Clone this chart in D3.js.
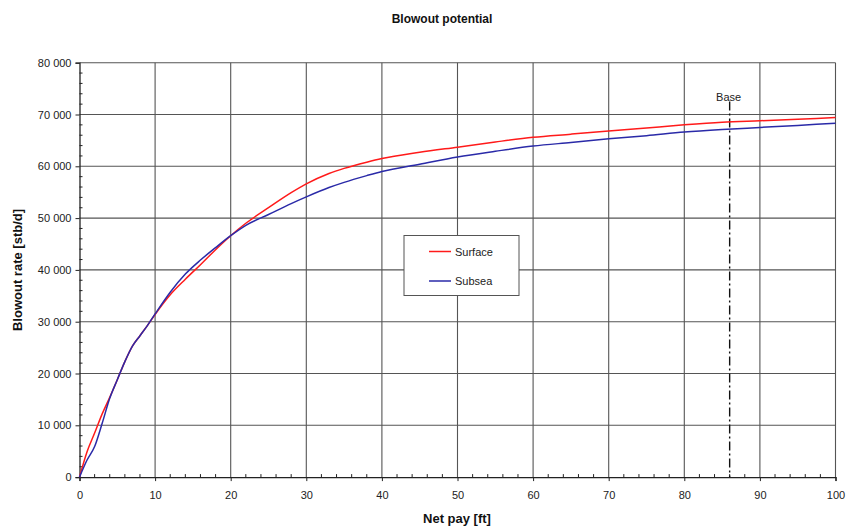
<!DOCTYPE html>
<html><head><meta charset="utf-8">
<script src="https://cdn.jsdelivr.net/npm/d3@7"></script>
<style>
html,body{margin:0;padding:0;background:#fff;}
svg text{font-family:"Liberation Sans",Arial,Helvetica,sans-serif;}
</style></head>
<body><svg id="c" width="847" height="531"></svg>
<script>
const netPay = [0,1,2,3,4,5,6,7,8,9,10,12,14,16,18,20,22,25,28,30,33,35,38,40,45,50,55,60,65,70,75,80,85,90,95,100];
const surface = [0,4900,8500,12200,15400,18800,22300,25300,27300,29300,31400,35200,38200,41000,43900,46600,49000,52000,54900,56600,58600,59600,60800,61500,62700,63700,64700,65600,66200,66800,67400,68000,68500,68800,69100,69400];
const subsea = [0,3300,5900,10400,15200,18800,22300,25300,27300,29300,31500,35700,39200,41900,44300,46600,48600,50700,52800,54100,55900,56900,58200,59000,60400,61800,62900,63900,64600,65300,65900,66600,67100,67500,67900,68300];
const xTicks = [0,10,20,30,40,50,60,70,80,90,100];
const yTicks = [0,10000,20000,30000,40000,50000,60000,70000,80000];
const seriesNames = ["Surface","Subsea"];
const seriesColors = ["#ff1a1a","#2a2aa8"];
const baseX = 86;
const title = "Blowout potential";
const xLabel = "Net pay [ft]";
const yLabel = "Blowout rate [stb/d]";

const svg = d3.select("#c");
const L=79.5, R=835.5, T=62.7, B=477.1;
const x = d3.scaleLinear().domain([0,100]).range([L,R]);
const y = d3.scaleLinear().domain([0,80000]).range([B,T]);
const fmt = v => d3.format(",")(v).replace(/,/g," ");

// grid
svg.append("g").selectAll("line").data(xTicks.slice(1)).join("line")
  .attr("x1",d=>x(d)).attr("x2",d=>x(d)).attr("y1",T).attr("y2",B)
  .attr("stroke","#555").attr("stroke-width",1.1);
svg.append("g").selectAll("line").data(yTicks.slice(1)).join("line")
  .attr("x1",L).attr("x2",R).attr("y1",d=>y(d)).attr("y2",d=>y(d))
  .attr("stroke","#555").attr("stroke-width",1.1);

// axes
const yAxis = d3.axisLeft(y).tickValues(yTicks).tickFormat(fmt).tickSize(4).tickPadding(4);
const gy = svg.append("g").attr("transform",`translate(${L},0)`).call(yAxis);
const xAxis = d3.axisBottom(x).tickValues(xTicks).tickSize(4).tickPadding(10);
const gx = svg.append("g").attr("transform",`translate(0,${B})`).call(xAxis);
[gy,gx].forEach(g=>{
  g.select(".domain").attr("stroke","#222").attr("stroke-width",1.3);
  g.selectAll(".tick line").attr("stroke","#222");
  g.selectAll(".tick text").attr("font-size",11).attr("fill","#222");
});
// minor ticks (inside)
const yMinor = d3.range(0,80001,2000).filter(v=>v%10000!==0);
svg.append("g").selectAll("line").data(yMinor).join("line")
  .attr("x1",L).attr("x2",L+3).attr("y1",d=>y(d)).attr("y2",d=>y(d)).attr("stroke","#222");
const xMinor = d3.range(0,101,2).filter(v=>v%10!==0);
svg.append("g").selectAll("line").data(xMinor).join("line")
  .attr("x1",d=>x(d)).attr("x2",d=>x(d)).attr("y1",B).attr("y2",B-3).attr("stroke","#222");

// base line
svg.append("line").attr("x1",x(baseX)).attr("x2",x(baseX)).attr("y1",y(72500)).attr("y2",B)
  .attr("stroke","#111").attr("stroke-width",1.4).attr("stroke-dasharray","9,3,2,3");
svg.append("text").attr("x",x(baseX)-1).attr("y",101).attr("text-anchor","middle")
  .attr("font-size",11).attr("fill","#222").text("Base");

// series
const line = d3.line().x((d,i)=>x(netPay[i])).y(d=>y(d)).curve(d3.curveMonotoneX);
[surface,subsea].forEach((s,i)=>{
  svg.append("path").datum(s).attr("d",line).attr("fill","none")
    .attr("stroke",seriesColors[i]).attr("stroke-width",1.5);
});

// legend
const lg = svg.append("g");
lg.append("rect").attr("x",404).attr("y",235.5).attr("width",115).attr("height",60)
  .attr("fill","#fff").attr("stroke","#555").attr("stroke-width",1);
seriesNames.forEach((n,i)=>{
  const yy = 251.5 + i*29.5;
  lg.append("line").attr("x1",429).attr("x2",451).attr("y1",yy).attr("y2",yy)
    .attr("stroke",seriesColors[i]).attr("stroke-width",1.5);
  lg.append("text").attr("x",455).attr("y",yy+4).attr("font-size",11).attr("fill","#222").text(n);
});

// titles
svg.append("text").attr("x",442).attr("y",23).attr("text-anchor","middle")
  .attr("font-size",12).attr("font-weight","bold").attr("fill","#111").text(title);
svg.append("text").attr("x",457).attr("y",523).attr("text-anchor","middle")
  .attr("font-size",13).attr("font-weight","bold").attr("fill","#111").text(xLabel);
svg.append("text").attr("transform","translate(22,270) rotate(-90)").attr("text-anchor","middle")
  .attr("font-size",13).attr("font-weight","bold").attr("fill","#111").text(yLabel);
</script></body></html>
